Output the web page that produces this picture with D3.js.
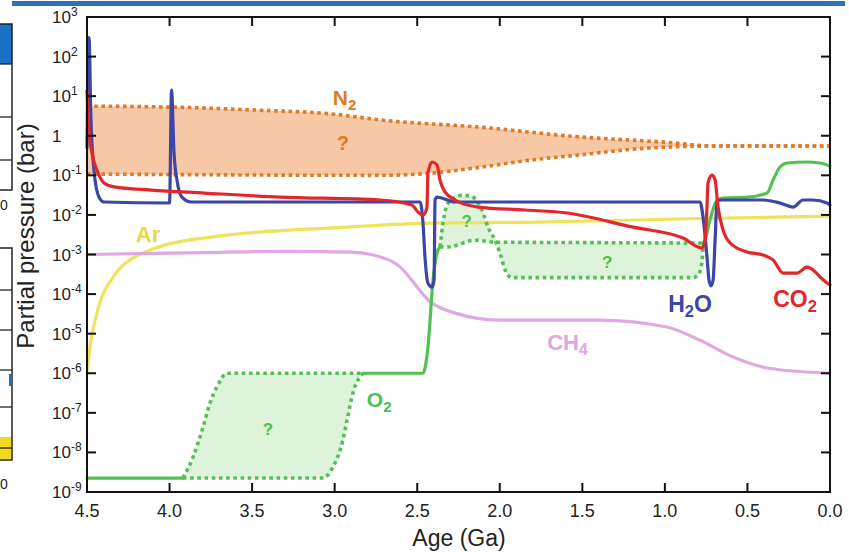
<!DOCTYPE html>
<html><head><meta charset="utf-8">
<script src="https://cdn.jsdelivr.net/npm/d3@7"></script>
<style>body{margin:0;background:#fff}svg{display:block;font-family:"Liberation Sans",Arial,sans-serif}</style>
</head><body><svg id="c" width="849" height="552"></svg>
<script>
// ---- data (age in Ga, partial pressure in bar) ----
const xTickValues = [4.5, 4.0, 3.5, 3.0, 2.5, 2.0, 1.5, 1.0, 0.5, 0.0];
const yTickExponents = [3, 2, 1, 0, -1, -2, -3, -4, -5, -6, -7, -8, -9];

const n2Upper = [[4.5,5.6],[4.0,5.3],[3.5,4.5],[3.0,3.5],[2.72,2.5],[2.12,1.65],[1.51,0.93],[1.0,0.69],[0.7,0.55],[0.0,0.55]];
const n2Lower = [[4.5,0.108],[2.72,0.1],[2.4,0.115],[2.12,0.16],[1.82,0.24],[1.51,0.33],[1.1,0.49],[0.7,0.55],[0.0,0.55]];

const h2o = [[4.5,0.5],[4.494,150],[4.488,300],[4.476,2.5],[4.458,0.136],[4.427,0.028],[4.397,0.0212],[4.0,0.02],[3.988,14.3],[3.973,0.37],[3.955,0.076],[3.925,0.028],[3.87,0.0212],[2.483,0.0212],[2.465,0.0062],[2.453,8.6e-4],[2.435,1.9e-4],[2.41,1.5e-4],[2.398,2.26e-4],[2.392,0.0238],[2.38,0.0283],[2.271,0.0212],[0.787,0.0212],[0.769,0.0089],[0.745,8.6e-4],[0.733,2.26e-4],[0.721,1.6e-4],[0.708,2.26e-4],[0.696,0.0023],[0.684,0.0212],[0.666,0.0238],[0.406,0.0238],[0.303,0.02],[0.224,0.0158],[0.163,0.0238],[0.103,0.0238],[0.018,0.02],[0.0,0.0178]];

const co2 = [[4.5,14],[4.488,1.4],[4.47,0.37],[4.44,0.136],[4.397,0.064],[4.336,0.051],[4.112,0.0425],[3.791,0.0357],[3.331,0.0283],[2.725,0.0238],[2.532,0.0178],[2.495,0.0118],[2.465,0.0099],[2.441,0.0158],[2.435,0.115],[2.41,0.217],[2.38,0.182],[2.362,0.076],[2.332,0.038],[2.271,0.0238],[2.132,0.0158],[1.847,0.0133],[1.593,0.0112],[1.193,0.0049],[0.89,0.0026],[0.8,0.00155],[0.775,0.00146],[0.757,0.0023],[0.745,0.0158],[0.739,0.064],[0.714,0.102],[0.696,0.076],[0.678,0.0158],[0.648,0.0042],[0.605,0.00195],[0.503,0.00116],[0.406,9.7e-4],[0.345,7.3e-4],[0.284,3.4e-4],[0.2,3.4e-4],[0.139,4.8e-4],[0.103,4.1e-4],[0.06,2.7e-4],[0.018,1.9e-4],[0.0,1.7e-4]];

const ar = [[4.5,1.0e-6],[4.482,4.6e-6],[4.44,3.3e-5],[4.342,2.7e-4],[4.137,1.2e-3],[3.737,2.8e-3],[2.925,4.9e-3],[2.423,6.2e-3],[1.847,6.5e-3],[0.848,8.0e-3],[0.0,9.3e-3]];

const ch4 = [[4.5,1.0e-3],[3.9,1.1e-3],[3.3,1.2e-3],[2.9,1.15e-3],[2.78,1.0e-3],[2.62,5.5e-4],[2.41,5.9e-5],[2.27,3.3e-5],[2.0,2.2e-5],[1.4,2.2e-5],[0.99,1.47e-5],[0.79,6.9e-6],[0.59,2.6e-6],[0.38,1.36e-6],[0.0,1.0e-6]];

const o2Early = [[4.5,2.25e-9],[3.919,2.25e-9]];
const o2Mid = [[2.828,1e-6],[2.465,1e-6],[2.435,4.6e-6],[2.404,2.3e-4],[2.38,1.1e-3],[2.362,1.55e-3]];
const o2Late = [[0.769,1.95e-3],[0.757,2.3e-3],[0.727,7.4e-3],[0.684,0.0238],[0.648,0.0267],[0.503,0.028],[0.381,0.0357],[0.345,0.076],[0.303,0.162],[0.26,0.205],[0.139,0.217],[0.06,0.205],[0.0,0.172]];
const o2ArchTop = [[3.919,2.25e-9],[3.858,7.6e-9],[3.797,4.4e-8],[3.755,1.77e-7],[3.713,4.5e-7],[3.652,1e-6],[2.828,1e-6]];
const o2ArchBottom = [[3.919,2.25e-9],[3.071,2.25e-9],[3.01,4.3e-9],[2.95,2.06e-8],[2.925,6.6e-8],[2.889,3.2e-7],[2.828,1e-6]];
const o2PostTop = [[2.362,1.55e-3],[2.344,6.2e-3],[2.313,0.02],[2.229,0.0315],[2.162,0.028],[2.108,0.0133],[2.071,4.9e-3],[2.029,2.3e-3],[1.999,1.09e-3],[1.968,4.1e-4],[1.926,2.6e-4],[0.83,2.6e-4],[0.8,3.0e-4],[0.775,6.5e-4],[0.769,1.95e-3]];
const o2PostMid = [[2.362,1.55e-3],[2.313,1.55e-3],[2.15,2.3e-3],[2.029,2.05e-3],[1.5,2.0e-3],[0.769,1.95e-3]];

const labels = [
  {t:"N", sub:"2", age:2.94, v:6.0, c:"#E07A25", fs:21},
  {t:"?", sub:"", age:2.95, v:0.44, c:"#E07A25", fs:20},
  {t:"Ar", sub:"", age:4.13, v:2.07e-3, c:"#E6DB3E", fs:22},
  {t:"CH", sub:"4", age:1.59, v:3.9e-6, c:"#DFA6DF", fs:22},
  {t:"H", sub:"2", tail:"O", age:0.848, v:3.5e-5, c:"#3C45A8", fs:23},
  {t:"CO", sub:"2", age:0.212, v:4.7e-5, c:"#E3262C", fs:23},
  {t:"O", sub:"2", age:2.73, v:1.4e-7, c:"#4FBF4F", fs:21},
  {t:"?", sub:"", age:2.2, v:4.9e-3, c:"#4FBF4F", fs:17},
  {t:"?", sub:"", age:1.35, v:4.6e-4, c:"#4FBF4F", fs:17},
  {t:"?", sub:"", age:3.404, v:2.8e-8, c:"#4FBF4F", fs:17}
];

// ---- drawing ----
const svg = d3.select("#c");
const x = d3.scaleLinear().domain([4.5, 0]).range([87, 830]);
const y = d3.scaleLog().domain([1e-9, 1e3]).range([492, 17]);
const line = d3.line().x(d => x(d[0])).y(d => y(d[1])).curve(d3.curveMonotoneX);
const band = (a, b) => line(a) + "L" + line(b.slice().reverse()).slice(1) + "Z";

// decorative fragments of the neighbouring panel at the left edge
const deco = svg.append("g");
deco.append("rect").attr("x", 12).attr("y", 1).attr("width", 833).attr("height", 5).attr("fill", "#2E6FB5");
deco.append("rect").attr("x", -2).attr("y", 24).attr("width", 14).attr("height", 40).attr("fill", "#1B6FC4");
deco.append("rect").attr("x", -2).attr("y", 24).attr("width", 14).attr("height", 166).attr("fill", "none").attr("stroke", "#222").attr("stroke-width", 1.5);
[64, 117, 160].forEach(v => deco.append("line").attr("x1", 0).attr("x2", 12).attr("y1", v).attr("y2", v).attr("stroke", "#222").attr("stroke-width", 1.3));
deco.append("rect").attr("x", -2).attr("y", 248).attr("width", 14).attr("height", 212).attr("fill", "none").attr("stroke", "#222").attr("stroke-width", 1.5);
[290, 330, 370, 407, 448].forEach(v => deco.append("line").attr("x1", 0).attr("x2", 12).attr("y1", v).attr("y2", v).attr("stroke", "#222").attr("stroke-width", 1.3));
deco.append("rect").attr("x", 0).attr("y", 437).attr("width", 11).attr("height", 22).attr("fill", "#F2D81E");
deco.append("line").attr("x1", 0).attr("x2", 11).attr("y1", 448).attr("y2", 448).attr("stroke", "#222").attr("stroke-width", 1.3);
deco.append("rect").attr("x", 9).attr("y", 374).attr("width", 3).attr("height", 12).attr("fill", "#1B6FC4");
deco.append("text").attr("x", 0).attr("y", 210).attr("font-size", 14).attr("fill", "#222").text("0");
deco.append("text").attr("x", 0).attr("y", 489).attr("font-size", 14).attr("fill", "#222").text("0");

// fills
svg.append("path").attr("d", band(n2Upper, n2Lower)).attr("fill", "#F6C8A6");
svg.append("path").attr("d", band(o2ArchTop, o2ArchBottom)).attr("fill", "#DDF4DA");
svg.append("path").attr("d", band(o2PostTop, o2PostMid)).attr("fill", "#DDF4DA");

const dotted = (data, color) => svg.append("path").attr("d", line(data)).attr("fill", "none")
  .attr("stroke", color).attr("stroke-width", 3.6).attr("stroke-dasharray", "3.6 3.6");
const solid = (data, color, w) => svg.append("path").attr("d", line(data)).attr("fill", "none")
  .attr("stroke", color).attr("stroke-width", w || 3.2).attr("stroke-linejoin", "round").attr("stroke-linecap", "round");

dotted(n2Upper, "#E07A25");
dotted(n2Lower, "#E07A25");

solid(ar, "#EEE35B");
solid(ch4, "#E0A8E2");

dotted(o2ArchTop, "#52C152");
dotted(o2ArchBottom, "#52C152");
dotted(o2PostTop, "#52C152");
dotted(o2PostMid, "#52C152");
solid(o2Early, "#52C152");
solid(o2Mid, "#52C152");
solid(o2Late, "#52C152");

solid(h2o, "#3C45A8");
solid(co2, "#E3262C");

// frame and ticks
svg.append("rect").attr("x", 87).attr("y", 17).attr("width", 743).attr("height", 475)
  .attr("fill", "none").attr("stroke", "#111").attr("stroke-width", 2);
const tk = svg.append("g").attr("stroke", "#111").attr("stroke-width", 2);
xTickValues.slice(1, -1).forEach(a => {
  tk.append("line").attr("x1", x(a)).attr("x2", x(a)).attr("y1", 492).attr("y2", 483);
  tk.append("line").attr("x1", x(a)).attr("x2", x(a)).attr("y1", 17).attr("y2", 26);
});
yTickExponents.slice(1, -1).forEach(e => {
  tk.append("line").attr("x1", 87).attr("x2", 96).attr("y1", y(10 ** e)).attr("y2", y(10 ** e));
  tk.append("line").attr("x1", 830).attr("x2", 821).attr("y1", y(10 ** e)).attr("y2", y(10 ** e));
});

// tick labels
xTickValues.forEach(a => svg.append("text").attr("x", x(a)).attr("y", 517).attr("text-anchor", "middle")
  .attr("font-size", 18).attr("fill", "#222").text(a.toFixed(1)));
yTickExponents.forEach(e => {
  const t = svg.append("text").attr("x", 52).attr("y", y(10 ** e) + 6).attr("font-size", 17).attr("fill", "#222");
  if (e === 0) { t.text("1"); return; }
  t.append("tspan").text("10");
  t.append("tspan").attr("dy", -7).attr("font-size", 12).text(e < 0 ? "-" + (-e) : String(e));
});

// axis titles
svg.append("text").attr("x", 459).attr("y", 546).attr("text-anchor", "middle").attr("font-size", 23).attr("fill", "#222").text("Age (Ga)");
svg.append("text").attr("transform", "translate(34,236) rotate(-90)").attr("text-anchor", "middle").attr("font-size", 24).attr("fill", "#222").text("Partial pressure (bar)");

// series labels
labels.forEach(l => {
  const t = svg.append("text").attr("x", x(l.age)).attr("y", y(l.v)).attr("text-anchor", "middle")
    .attr("font-size", l.fs).attr("font-weight", "bold").attr("fill", l.c);
  t.append("tspan").text(l.t);
  if (l.sub) t.append("tspan").attr("dy", 5).attr("font-size", l.fs * 0.72).text(l.sub);
  if (l.tail) t.append("tspan").attr("dy", -5).text(l.tail);
});
</script></body></html>
